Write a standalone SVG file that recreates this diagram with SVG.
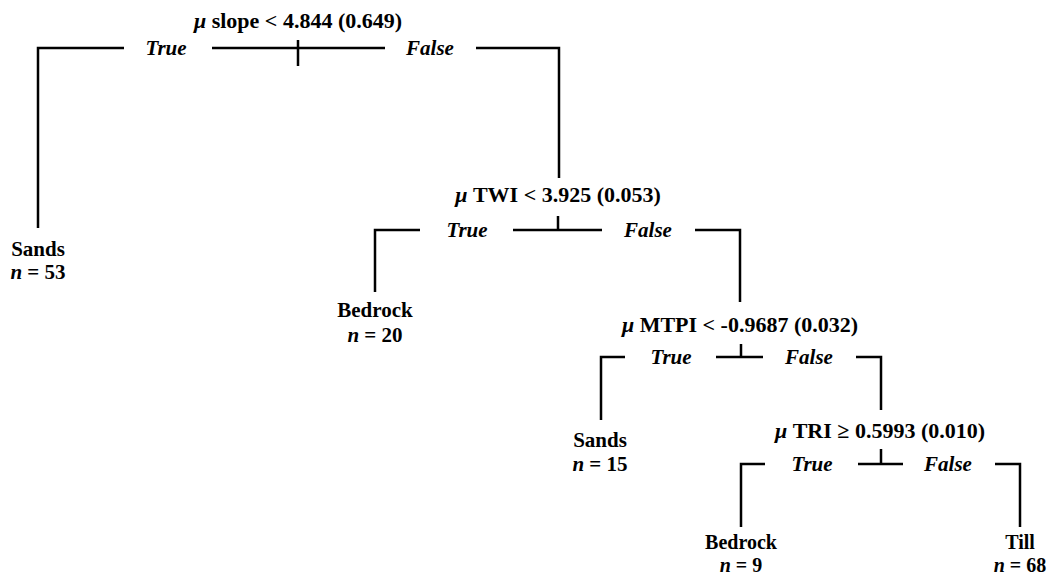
<svg xmlns="http://www.w3.org/2000/svg" width="1052" height="575" viewBox="0 0 1052 575">
<style>
text{font-family:"Liberation Serif","DejaVu Serif",serif;font-weight:bold;font-size:21px;fill:#000;text-anchor:middle}
.b{font-style:italic}
.t{font-size:22px}
.s{font-size:20px}
.c{fill:none;stroke:#000;stroke-width:2.5}
</style>
<rect width="1052" height="575" fill="#fff"/>
<g id="connectors">
<path class="c" d="M38 228V48H124M212 48H385M476 48H559V178M298 40V66"/>
<path class="c" d="M375 292V230H420M513 230H602M695 230H740V302M558 216V230"/>
<path class="c" d="M601 420V357H625M716 357H763M856 357H881V410M741 344V357"/>
<path class="c" d="M741 527V464H765M858 464H903M995 464H1020V527M881 449V464"/>
</g>
<g id="node-root">
<text class="t" x="298" y="28"><tspan class="b">μ</tspan> slope &lt; 4.844 (0.649)</text>
<text class="b" x="166" y="55">True</text>
<text class="b" x="430" y="55">False</text>
</g>
<g id="node-twi">
<text class="t" x="558" y="202"><tspan class="b">μ</tspan> TWI &lt; 3.925 (0.053)</text>
<text class="b" x="467" y="237">True</text>
<text class="b" x="648" y="237">False</text>
</g>
<g id="node-mtpi">
<text class="t" x="740" y="332"><tspan class="b">μ</tspan> MTPI &lt; -0.9687 (0.032)</text>
<text class="b" x="671" y="364">True</text>
<text class="b" x="809" y="364">False</text>
</g>
<g id="node-tri">
<text class="t" x="880" y="438"><tspan class="b">μ</tspan> TRI ≥ 0.5993 (0.010)</text>
<text class="b" x="812" y="471">True</text>
<text class="b" x="948" y="471">False</text>
</g>
<g id="leaf-sands53">
<text x="38" y="256">Sands</text>
<text x="38" y="279"><tspan class="b">n</tspan> = 53</text>
</g>
<g id="leaf-bedrock20">
<text x="375" y="317">Bedrock</text>
<text x="375" y="342"><tspan class="b">n</tspan> = 20</text>
</g>
<g id="leaf-sands15">
<text x="600" y="447">Sands</text>
<text x="600" y="471"><tspan class="b">n</tspan> = 15</text>
</g>
<g id="leaf-bedrock9">
<text class="s" x="741" y="549">Bedrock</text>
<text class="s" x="741" y="572"><tspan class="b">n</tspan> = 9</text>
</g>
<g id="leaf-till68">
<text class="s" x="1020" y="549">Till</text>
<text class="s" x="1020" y="572"><tspan class="b">n</tspan> = 68</text>
</g>
</svg>
